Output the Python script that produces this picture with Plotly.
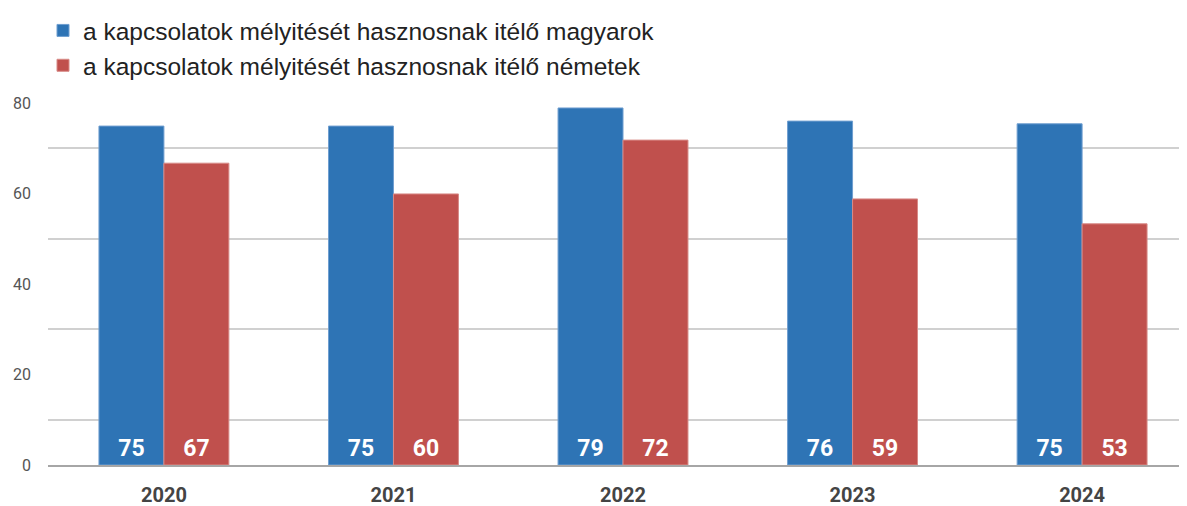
import plotly.graph_objects as go

years = ["2020", "2021", "2022", "2023", "2024"]
hungarians = [74.9, 74.9, 78.9, 76.0, 75.4]
germans = [66.7, 59.9, 71.8, 58.8, 53.3]
series_names = [
    "a kapcsolatok mélyitését hasznosnak itélő magyarok",
    "a kapcsolatok mélyitését hasznosnak itélő németek",
]
y_ticks = [0, 20, 40, 60, 80]
grid_vals = [10, 30, 50, 70]

blue = "#2E74B5"
red = "#C0504D"

# page body has an 8px margin, so the figure is sized to fill the rest of the window
W, H = 1179, 498

fig = go.Figure()
for name, vals, col, edge, grp in [
    (series_names[0], hungarians, blue, "#6F9ED0", "g1"),
    (series_names[1], germans, red, "#D88A87", "g2"),
]:
    fig.add_trace(go.Bar(
        x=years, y=vals, name=name, legendgroup=grp,
        marker=dict(color=col, line=dict(color=edge, width=1)),
        texttemplate="%{y:.0f}", textposition="inside", insidetextanchor="start",
        textangle=0, constraintext="none",
        textfont=dict(family="Roboto", size=23, color="white", weight="bold"),
        hoverinfo="skip",
    ))

fig.update_layout(
    width=W, height=H,
    margin=dict(l=40, r=0, t=95, b=41, autoexpand=False),
    paper_bgcolor="white", plot_bgcolor="white",
    barmode="group", bargap=0.434, bargroupgap=0,
    legend=dict(
        xref="container", yref="container", x=35/W, y=1 + 9/H,
        xanchor="left", yanchor="top", orientation="v",
        traceorder="grouped", tracegroupgap=0,
        font=dict(family="Liberation Sans", size=24.5, color="#222222"),
        bgcolor="rgba(0,0,0,0)",
    ),
    xaxis=dict(
        type="category", range=[-0.505, 4.457],
        showline=True, linecolor="#A6A6A6", linewidth=1.5,
        showgrid=False, ticks="", ticklabelstandoff=11,
        tickfont=dict(family="Roboto", size=20, color="#444444", weight="bold"),
    ),
    yaxis=dict(
        range=[0, 80], tickvals=y_ticks, showgrid=False, zeroline=False,
        ticks="", ticklabelstandoff=16,
        tickfont=dict(family="Roboto", size=16, color="#555555"),
        minor=dict(tickvals=grid_vals, showgrid=True, gridcolor="#D0D0D0", gridwidth=1.5, ticks=""),
    ),
)

fig.write_html("out.html")
